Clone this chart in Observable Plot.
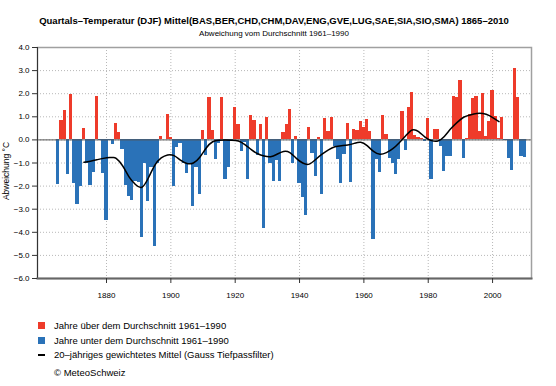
<!DOCTYPE html>
<html><head><meta charset="utf-8">
<script src="https://cdn.jsdelivr.net/npm/d3@7"></script>
<script src="https://cdn.jsdelivr.net/npm/@observablehq/plot@0.6"></script>
<style>
body{margin:0;background:#fff;font-family:"Liberation Sans",Arial,sans-serif;}
#wrap{position:relative;width:556px;height:386px;overflow:hidden;background:#fff;}
.t{position:absolute;white-space:nowrap;color:#000;}
.sw{position:absolute;width:7px;height:7px;}
</style></head><body><div id="wrap">
<div class="t" style="left:0;width:548px;text-align:center;top:15px;line-height:12px;font-weight:bold;font-size:9.5px;">Quartals–Temperatur (DJF) Mittel(BAS,BER,CHD,CHM,DAV,ENG,GVE,LUG,SAE,SIA,SIO,SMA) 1865–2010</div>
<div class="t" style="left:0;width:548px;text-align:center;top:29px;line-height:10px;font-size:8px;">Abweichung vom Durchschnitt 1961–1990</div>
<div id="chart" style="position:absolute;left:0;top:40px;"></div>
<div class="sw" style="left:38px;top:322px;background:#EE3B2A;"></div>
<div class="t" style="left:54px;top:320px;line-height:12px;font-size:9.5px;">Jahre über dem Durchschnitt 1961–1990</div>
<div class="sw" style="left:38px;top:337px;background:#2A72B8;"></div>
<div class="t" style="left:54px;top:335px;line-height:12px;font-size:9.5px;">Jahre unter dem Durchschnitt 1961–1990</div>
<div style="position:absolute;left:38px;top:354px;width:7px;height:1.5px;background:#000;"></div>
<div class="t" style="left:54px;top:349px;line-height:12px;font-size:9.5px;">20–jähriges gewichtetes Mittel (Gauss Tiefpassfilter)</div>
<div class="t" style="left:54px;top:367px;line-height:12px;font-size:9.5px;">© MeteoSchweiz</div>
</div>
<script>
const firstYear = 1865;
const anomalies = [
  -1.93, 0.86, 1.28, -1.5, 1.97,
  -1.87, -2.8, -2.02, 0.5, -1.04, -1.97, -1.41, 1.9, -0.03, -1.45,
  -3.49, -0.03, -0.22, 0.69, 0.31, -0.43, -1.99, -2.45, -2.62, -1.79,
  -1.84, -4.24, -1.0, -2.66, -1.2, -4.6, -1.0, 0.13, 0.02, 1.08,
  0.1, -2.0, -0.33, -0.17, -1.0, -1.47, -1.0, -2.87, -1.2, -2.36,
  0.4, -0.66, 1.84, 0.4, -0.83, -0.15, 1.84, -1.73, -1.2, -0.05,
  1.41, 0.68, -0.5, -0.1, -1.73, 1.04, 0.84, -0.66, 0.65, -3.85,
  0.95, -1.04, -1.79, -0.9, -1.82, 0.3, 0.65, 1.31, -1.0, 0.15,
  -1.87, -2.5, -3.29, 0.55, -0.6, -1.6, 0.1, -2.38, 0.94, 0.37,
  0.97, -0.3, -0.87, -1.9, -0.63, 0.72, -1.83, 0.45, 0.4, 0.78,
  0.55, 0.88, 0.35, -4.3, -0.85, -1.43, 1.05, 0.22, -0.8, -1.0,
  -1.5, -0.85, 1.21, -0.44, 1.4, 2.07, 0.2, 0.1, 0.05, -0.07,
  0.91, -1.72, 0.43, 0.43, -0.28, -1.36, -0.74, -0.74, 1.88, 1.85,
  2.59, -0.79, 0.04, 1.12, 1.8, 1.88, 0.36, 2.01, 0.13, 0.79,
  2.14, 1.02, 0.07, 0.95, -0.03, -0.8, -1.33, 3.09, 1.85, -0.7, -0.77
];
const smoothYears = [1873,1875,1877,1879,1881,1882,1883,1885,1887,1889,1891,1893,1895,1897,1899,1901,1903,1905,1907,1909,1911,1913,1915,1917,1919,1921,1923,1925,1927,1929,1931,1933,1935,1937,1939,1941,1943,1945,1947,1949,1951,1953,1955,1957,1959,1961,1963,1965,1967,1969,1971,1973,1975,1977,1979,1981,1983,1985,1987,1989,1991,1993,1995,1997,1999,2001,2002];
const smoothValues = [-0.97,-0.92,-0.86,-0.8,-0.76,-0.76,-0.8,-1.12,-1.6,-1.93,-2.05,-1.65,-1.1,-0.78,-0.65,-0.68,-0.88,-1.02,-1.0,-0.75,-0.35,-0.08,-0.01,0.0,-0.01,-0.05,-0.2,-0.42,-0.6,-0.7,-0.73,-0.62,-0.5,-0.55,-0.8,-1.0,-1.05,-0.85,-0.62,-0.43,-0.3,-0.25,-0.22,-0.15,-0.1,-0.25,-0.5,-0.62,-0.55,-0.38,-0.12,0.18,0.43,0.36,0.12,-0.03,-0.05,0.15,0.48,0.76,0.98,1.08,1.14,1.14,1.05,0.88,0.79];
const xTicks = [1880, 1900, 1920, 1940, 1960, 1980, 2000];
const yTicks = [-6, -5, -4, -3, -2, -1, 0, 1, 2, 3, 4];
const colAbove = "#EE3B2A", colBelow = "#2A72B8";

const data = anomalies.map((v, i) => ({year: firstYear + i, value: v}));
const smooth = smoothYears.map((y, i) => ({year: y, value: smoothValues[i]}));
const fmtY = d => (d < 0 ? "\u2212" : "") + Math.abs(d).toFixed(1);

const chart = Plot.plot({
  width: 556, height: 266,
  marginTop: 7, marginBottom: 28, marginLeft: 37, marginRight: 25,
  x: {domain: [1858.55, 2012.1]},
  y: {domain: [-6, 4]},
  style: {fontFamily: "'Liberation Sans', Arial, sans-serif", fontSize: "8px", background: "#fff", color: "#000"},
  marks: [
    Plot.gridY(yTicks, {stroke: "#b8b8b8", strokeOpacity: 1, strokeDasharray: "1,2"}),
    Plot.gridX(xTicks, {stroke: "#b8b8b8", strokeOpacity: 1, strokeDasharray: "1,2"}),
    Plot.rect(data.filter(d => d.value >= 0), {x1: d => d.year - 0.5, x2: d => d.year + 0.5, y1: 0, y2: "value", fill: colAbove, shapeRendering: "crispEdges"}),
    Plot.rect(data.filter(d => d.value < 0), {x1: d => d.year - 0.5, x2: d => d.year + 0.5, y1: 0, y2: "value", fill: colBelow, shapeRendering: "crispEdges"}),
    Plot.ruleY([0], {stroke: "#555", strokeWidth: 1}),
    Plot.line(smooth, {x: "year", y: "value", curve: "natural", stroke: "#000", strokeWidth: 1.5}),
    Plot.frame({stroke: "#a0a0a0", strokeWidth: 1.5}),
    Plot.frame({anchor: "left", stroke: "#333"}),
    Plot.frame({anchor: "bottom", stroke: "#666", strokeWidth: 2}),
    Plot.axisY(yTicks, {anchor: "left", tickSize: 5, tickPadding: 3, tickFormat: fmtY, label: null, stroke: "#333"}),
    Plot.axisX(xTicks, {anchor: "bottom", tickSize: 5, tickPadding: 9, tickFormat: d => String(d), label: null, stroke: "#333"}),
    Plot.text(["Abweichung °C"], {frameAnchor: "left", textAnchor: "middle", dx: -31, dy: 8, rotate: -90, fontSize: 8.5, fill: "#000"})
  ]
});
document.getElementById("chart").appendChild(chart);
</script>
</body></html>
